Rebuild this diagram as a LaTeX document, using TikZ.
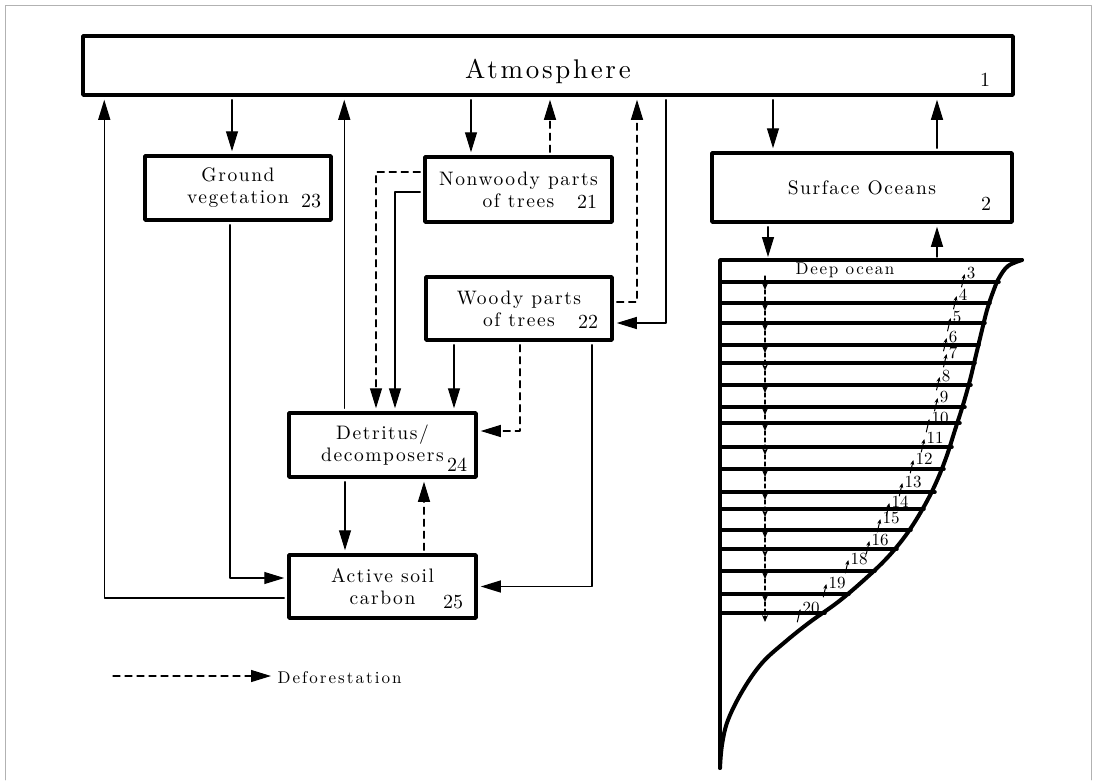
\documentclass[tikz,border=0pt]{standalone}
\usepackage{fontspec}
\setmainfont{lmroman10-regular.otf}
\usetikzlibrary{arrows.meta,calc}

\newcommand{\boxfont}{\fontsize{19.5}{22}\selectfont\addfontfeatures{LetterSpace=8}}

\begin{document}
\begin{tikzpicture}[line cap=round,line join=round,x=1pt,y=-1pt,
  >={Triangle[length=20pt,width=12pt]},
  compartment/.style={draw,line width=3.5pt,align=center,inner sep=2pt,font=\boxfont},
  boxnum/.style={font=\fontsize{20}{22}\selectfont},
  layernum/.style={font=\fontsize{17}{18}\selectfont,inner sep=1pt},
  flow/.style={->,line width=1.2pt,shorten <=3pt,shorten >=3pt},
  defor/.style={->,line width=1.2pt,dash pattern=on 7pt off 5pt,shorten <=3pt,shorten >=3pt},
  layer/.style={line width=3.5pt},
  oceandash/.style={-{Stealth[length=7pt,width=6pt]},line width=1.2pt,dash pattern=on 4pt off 3pt},
  tinyarrow/.style={-{Stealth[length=5pt,width=4pt]},line width=1pt}]
\useasboundingbox (0,0) rectangle (1093,780);
\draw[gray!60,line width=0.6pt] (5,780) -- (5,5) -- (1091,5) -- (1091,780);

% compartments
\node[compartment,minimum width=930pt,minimum height=59pt,text height=25pt,text depth=0pt,
  font=\fontsize{27}{28}\selectfont\addfontfeatures{LetterSpace=10}] (atmos) at (548,65.5) {Atmosphere};
\node[compartment,minimum width=186pt,minimum height=64pt] (ground) at (238,188) {Ground\\vegetation};
\node[compartment,minimum width=187pt,minimum height=65pt] (nonwoody) at (518.5,189.5) {Nonwoody parts\\of trees};
\node[compartment,minimum width=186pt,minimum height=63pt] (woody) at (519,308.5) {Woody parts\\of trees};
\node[compartment,minimum width=187pt,minimum height=64pt] (detritus) at (382.5,445) {Detritus/\\decomposers};
\node[compartment,minimum width=187pt,minimum height=63pt] (active) at (382.5,586.5) {Active soil\\carbon};
\node[compartment,minimum width=300pt,minimum height=69pt] (surface) at (862,187.5) {Surface Oceans};

% compartment numbers
\node[boxnum] (n1) at (985,80) {1};
\node[boxnum] (n2) at (986,204) {2};
\node[boxnum] (n21) at (587,202) {21};
\node[boxnum] (n22) at (588,322) {22};
\node[boxnum] (n23) at (311,201) {23};
\node[boxnum] (n24) at (457,465) {24};
\node[boxnum] (n25) at (453,602) {25};

% deep ocean
\coordinate (deeptop) at (720,260);
\draw[layer] (720,768) -- (deeptop) -- (1022,260);
\draw[line width=4pt] plot[smooth,tension=0.6] coordinates {(1022,260) (1008,266) (999,278) (993,292)
  (987,310) (982,330) (976,355) (970,380) (963,405) (955,430) (946,458) (935,485) (922,510)
  (906,535) (887,558) (864,580) (838,602) (810,622) (785,642) (762,663) (743,690) (728,720)
  (722,745) (720,768)};
\foreach \yy/\xx in {282/999, 303/990, 323/985, 345/979, 363/975, 385/971, 407/965, 423/960,
  447/952, 469/944, 492/935, 509/924, 530/911, 549/897, 571/875, 594/849, 613/825}
  \draw[layer] (720,\yy) -- (\xx,\yy);
\node[font=\fontsize{17}{18}\selectfont\addfontfeatures{LetterSpace=10}] (deeplabel) at (845,270) {Deep ocean};
\foreach \ya/\yb in {276/290, 290/311, 311/331, 331/353, 353/371, 371/393, 393/415, 415/431, 431/455,
  455/477, 477/500, 500/517, 517/538, 538/557, 557/579, 579/602, 602/622}
  \draw[oceandash] (765,\ya) -- (765,\yb);
\foreach \lx/\ly/\lab in {971/273/3, 963/295/4, 957/317/5, 953/337/6, 953/353/7, 946/376/8,
  944/397/9, 940/418/10, 935/438/11, 924/459/12, 913/482/13, 900/502/14, 891/518/15,
  880/540/16, 859/559/18, 837/583/19, 811/608/20}
{
  \node[layernum] (l\lab) at (\lx,\ly) {\lab};
  \draw[tinyarrow] ($(l\lab.west)+(-4,14)$) -- ($(l\lab.west)+(-1,1)$);
}

% flows
\draw[flow] ([xshift=-6pt]ground.north |- atmos.south) -- ([xshift=-6pt]ground.north);
\draw[flow] ([yshift=-11.5pt]active.west) -| ([xshift=23pt]atmos.south west);
\draw[flow] ([xshift=57pt]detritus.north west) -- ([xshift=57pt]detritus.north west |- atmos.south);
\draw[flow] ([xshift=-47.5pt]nonwoody.north |- atmos.south) -- ([xshift=-47.5pt]nonwoody.north);
\draw[defor] ([xshift=31.5pt]nonwoody.north) -- ([xshift=31.5pt]nonwoody.north |- atmos.south);
\draw[defor] ([yshift=6.5pt]woody.east) -| ([xshift=89pt]atmos.south);
\draw[flow] ([xshift=118pt]atmos.south) |- ([yshift=-14.5pt]woody.east);
\draw[flow] ([xshift=-89pt]surface.north |- atmos.south) -- ([xshift=-89pt]surface.north);
\draw[flow] ([xshift=75pt]surface.north) -- ([xshift=75pt]surface.north |- atmos.south);
\draw[flow] ([xshift=-94pt]surface.south) -- ([xshift=-94pt]surface.south |- deeptop);
\draw[flow] ([xshift=75pt]surface.south |- deeptop) -- ([xshift=75pt]surface.south);
\draw[defor] ([yshift=17.5pt]nonwoody.west) -| ([xshift=-6.5pt]detritus.north);
\draw[flow] ([yshift=-2.5pt]nonwoody.west) -| ([xshift=12.5pt]detritus.north);
\draw[flow] ([xshift=-65pt]woody.south) -- ([xshift=-65pt]woody.south |- detritus.north);
\draw[defor] ([xshift=1pt]woody.south) |- ([yshift=14pt]detritus.east);
\draw[flow] ([xshift=73pt]woody.south) |- (active.east);
\draw[flow] ([xshift=-8pt]ground.south) |- ([yshift=8.5pt]active.west);
\draw[flow] ([xshift=-37.5pt]detritus.south) -- ([xshift=-37.5pt]active.north);
\draw[defor] ([xshift=41.5pt]active.north) -- ([xshift=41.5pt]detritus.south);

% legend
\coordinate (legstart) at (110,676);
\node[anchor=west,font=\fontsize{17}{18}\selectfont\addfontfeatures{LetterSpace=12}] (legend) at (274,678) {Deforestation};
\draw[defor] (legstart) -- (legend.west |- legstart);
\end{tikzpicture}
\end{document}
